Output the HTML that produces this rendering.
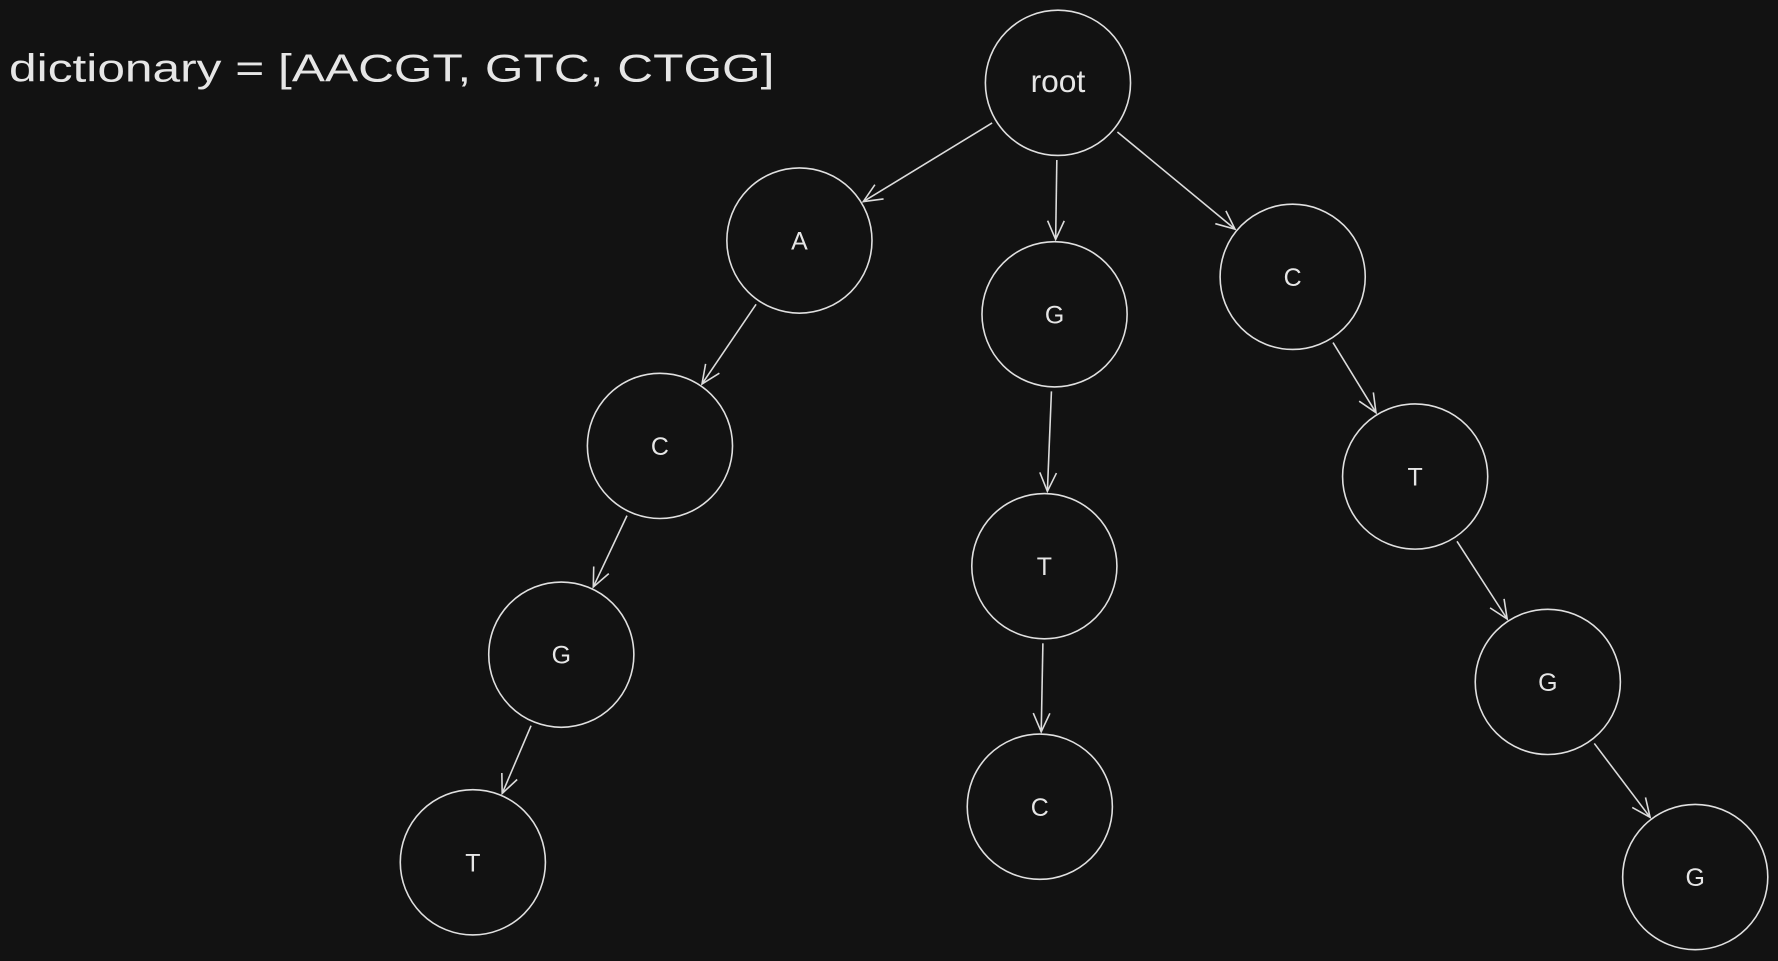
<!DOCTYPE html>
<html><head><meta charset="utf-8">
<style>
html,body{margin:0;padding:0;background:#121212;width:1778px;height:961px;overflow:hidden}
svg{display:block}
text{font-family:"Liberation Sans",sans-serif;fill:#e6e6e6}
</style></head>
<body>
<svg id="trie" width="1778" height="961" viewBox="0 0 1568 847" preserveAspectRatio="none">
<rect width="1568" height="847" fill="#121212"/>
<text x="8" y="72" font-size="34" textLength="675" lengthAdjust="spacingAndGlyphs">dictionary = [AACGT, GTC, CTGG]</text>
<g id="edges"></g>
<g id="nodes"></g>
</svg>
<script>
const nodeLabels = ["root","A","C","G","T","G","T","C","C","T","G","G"];
const nodeX = [933,705,582,495,417,930,921,917,1140,1248,1365,1495];
const nodeY = [73,212,393,577,760,277,499,711,244,420,601,773];
const edgeFrom = [0,1,2,3,0,5,6,0,8,9,10];
const edgeTo   = [1,2,3,4,5,6,7,8,9,10,11];
const R = 64;
const NS = "http://www.w3.org/2000/svg";
const eg = document.getElementById("edges"), ng = document.getElementById("nodes");
function mk(t, a){const e=document.createElementNS(NS,t);for(const k in a)e.setAttribute(k,a[k]);return e;}
for(let i=0;i<edgeFrom.length;i++){
  const a=edgeFrom[i], b=edgeTo[i];
  const dx=nodeX[b]-nodeX[a], dy=nodeY[b]-nodeY[a], L=Math.hypot(dx,dy), ux=dx/L, uy=dy/L;
  const x1=nodeX[a]+ux*(R+4), y1=nodeY[a]+uy*(R+4), x2=nodeX[b]-ux*(R+2), y2=nodeY[b]-uy*(R+2);
  const g=mk("g",{});
  
  
  g.appendChild(mk("line",{x1,y1,x2,y2,stroke:"#dcdcdc","stroke-width":1.4}));
  const ah=18, sp=0.42;
  const ang=Math.atan2(uy,ux);
  const p1=[x2-ah*Math.cos(ang-sp),y2-ah*Math.sin(ang-sp)], p2=[x2-ah*Math.cos(ang+sp),y2-ah*Math.sin(ang+sp)];
  g.appendChild(mk("path",{d:`M${p1[0]},${p1[1]} L${x2},${y2} L${p2[0]},${p2[1]}`,fill:"none",stroke:"#dcdcdc","stroke-width":1.4}));
  eg.appendChild(g);
}
for(let i=0;i<nodeLabels.length;i++){
  const g=mk("g",{});
  
  
  g.appendChild(mk("circle",{cx:nodeX[i],cy:nodeY[i],r:R,fill:"none",stroke:"#e0e0e0","stroke-width":1.4}));
  const t=mk("text",{x:nodeX[i],y:nodeY[i]+8,"text-anchor":"middle","font-size":nodeLabels[i]==="root"?28:22});
  t.textContent=nodeLabels[i];
  g.appendChild(t);
  ng.appendChild(g);
}
</script>
</body></html>
